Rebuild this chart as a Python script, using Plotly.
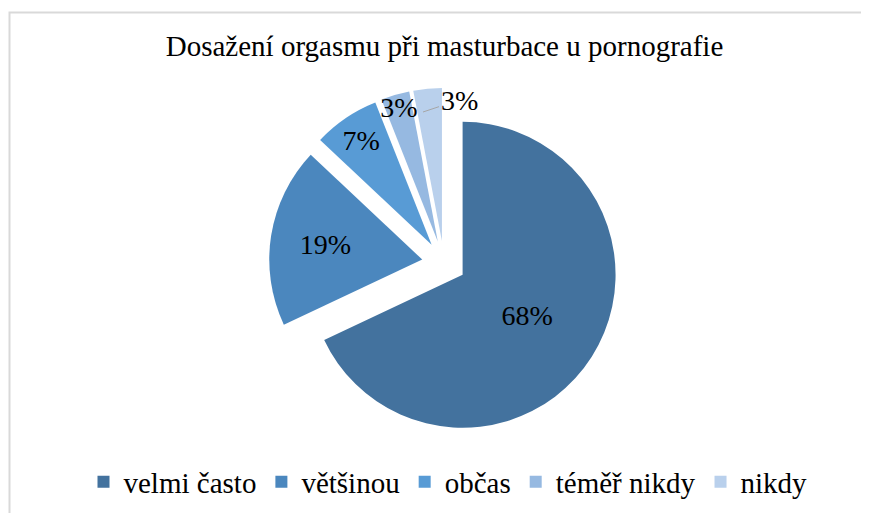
import plotly.graph_objects as go

title = "Dosažení orgasmu při masturbace u pornografie"
categories = ["velmi často", "většinou", "občas", "téměř nikdy", "nikdy"]
values = [68, 19, 7, 3, 3]
colors = ["#43729E", "#4B87BE", "#589BD5", "#96B9E1", "#B9D0EC"]

FONT = "Liberation Serif, Times New Roman, serif"
W, H = 869, 513
OFF = 8  # page body margin


def px(x):
    return (x - OFF) / W


def py(y):
    return 1 - (y - OFF) / H


fig = go.Figure(go.Pie(
    labels=categories,
    values=values,
    sort=False,
    direction="clockwise",
    rotation=0,
    pull=[0.144] * len(values),
    marker=dict(colors=colors, line=dict(width=0)),
    texttemplate="%{value}%",
    textposition=["inside", "inside", "inside", "inside", "none"],
    insidetextorientation="horizontal",
    textfont=dict(family=FONT, size=28, color="black"),
    domain=dict(x=[px(269), px(619)], y=[py(438), py(88)]),
    hoverinfo="label+percent",
))

fig.update_layout(
    width=W, height=H,
    margin=dict(l=0, r=0, t=0, b=0),
    paper_bgcolor="white",
    plot_bgcolor="white",
    title=dict(text=title, x=px(444.5), xanchor="center", y=py(46), yanchor="middle",
               font=dict(family=FONT, size=29, color="black")),
    legend=dict(orientation="h", x=px(448), xanchor="center", y=py(482), yanchor="middle",
                font=dict(family=FONT, size=29, color="black"), itemclick=False),
    uniformtext=dict(minsize=28, mode="show"),
    annotations=[dict(text=f"{values[4]}%", xref="paper", yref="paper",
                      x=px(423), y=py(112), showarrow=True, arrowhead=0,
                      arrowcolor="#A6A6A6", arrowwidth=1, ax=36, ay=-12,
                      font=dict(family=FONT, size=28, color="black"))],
    shapes=[dict(type="rect", xref="paper", yref="paper",
                 x0=px(9.5), x1=1.05, y0=-0.05, y1=py(12.5),
                 line=dict(color="#D9D9D9", width=2), fillcolor="rgba(0,0,0,0)", layer="below")],
)

fig.write_html("out.html")
